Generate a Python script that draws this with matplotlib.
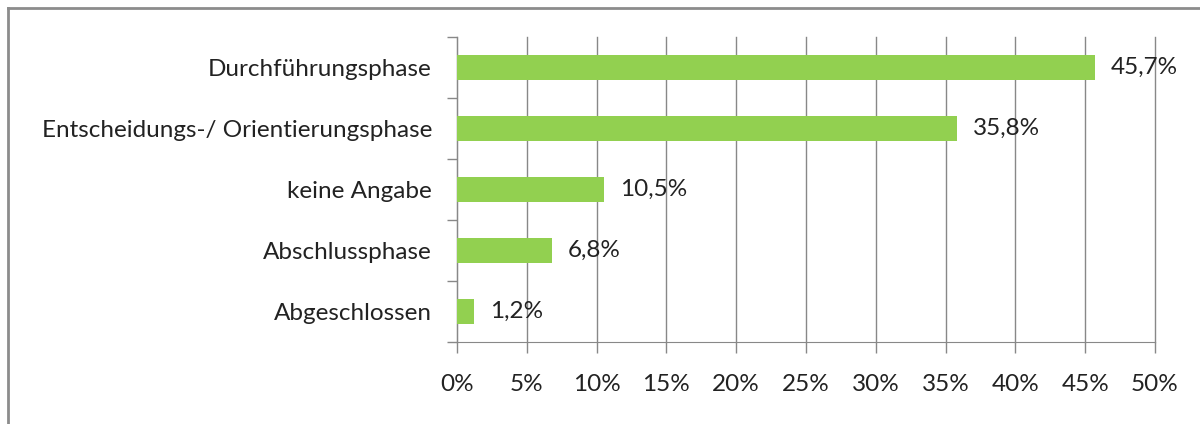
import matplotlib
matplotlib.use("Agg")
import matplotlib.pyplot as plt
from matplotlib.lines import Line2D

categories = ["Durchführungsphase", "Entscheidungs-/ Orientierungsphase",
              "keine Angabe", "Abschlussphase", "Abgeschlossen"]
values = [45.7, 35.8, 10.5, 6.8, 1.2]
value_labels = ["45,7%", "35,8%", "10,5%", "6,8%", "1,2%"]
xticks = [0, 5, 10, 15, 20, 25, 30, 35, 40, 45, 50]
xtick_labels = [f"{t}%" for t in xticks]

plt.rcParams['font.family'] = ['Lato', 'DejaVu Sans']
FS = 17.5

fig = plt.figure(figsize=(12, 4.24), dpi=100)
ax = fig.add_axes([457/1200, 1-342/424, (1155-457)/1200, (342-37)/424])

n = len(categories)
ypos = list(range(n))[::-1]
ax.barh(ypos, values, height=0.4, color="#92D050", zorder=3)
for y, v, lab in zip(ypos, values, value_labels):
    ax.text(v + 1.15, y, lab, va="center", ha="left", fontsize=FS, color="#222222", zorder=4)

ax.set_xlim(0, 50)
ax.set_ylim(-0.5, n - 0.5)
ax.set_xticks(xticks)
ax.set_xticklabels(xtick_labels, fontsize=FS, color="#222222")
ax.set_yticks(ypos)
ax.set_yticklabels(categories, fontsize=FS, color="#222222")
ax.tick_params(axis="y", length=0, pad=18)
ax.set_yticks([i - 0.5 for i in range(n + 1)], minor=True)
ax.tick_params(axis="y", which="minor", length=7, color="#888888", width=1)
ax.tick_params(axis="x", length=8, color="#888888", width=1, pad=15)
ax.grid(axis="x", color="#888888", linewidth=1, zorder=0)
for gl in ax.get_xgridlines():
    gl.set_clip_on(False)
for s in ["top", "right"]:
    ax.spines[s].set_visible(False)
ax.spines["left"].set_color("#888888")
ax.spines["bottom"].set_color("#888888")

# figure border (left & top)
fig.add_artist(Line2D([7.5/1200, 7.5/1200], [0, 1-7.5/424], transform=fig.transFigure, color="#8c8c8c", linewidth=2))
fig.add_artist(Line2D([7.5/1200, 1], [1-7.5/424, 1-7.5/424], transform=fig.transFigure, color="#8c8c8c", linewidth=2))

fig.savefig("out.png", dpi=100)
